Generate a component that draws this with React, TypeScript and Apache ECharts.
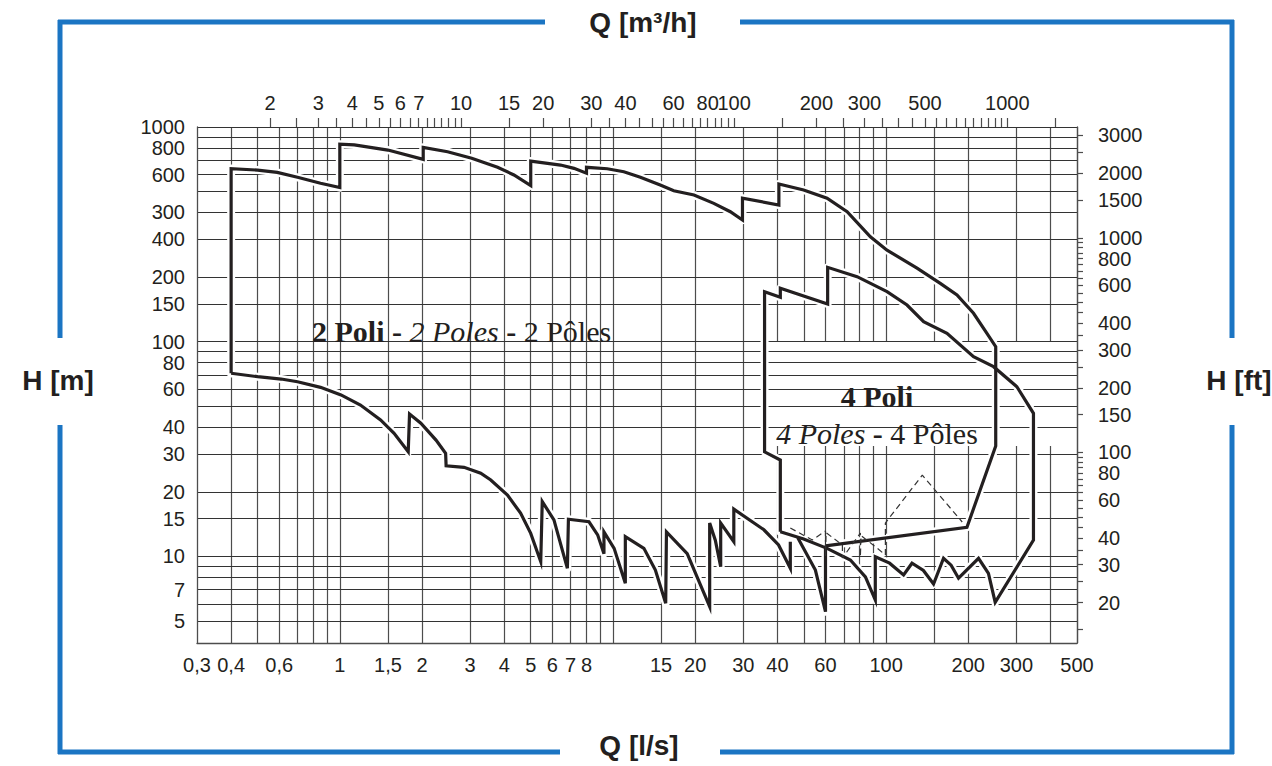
import React, { useEffect, useRef } from 'react';
import * as echarts from 'echarts';

// ---- axis values ----
const qLabelsLs = [0.3, 0.4, 0.6, 1, 1.5, 2, 3, 4, 5, 6, 7, 8, 15, 20, 30, 40, 60, 100, 200, 300, 500];
const qGridLs = [0.4, 0.5, 0.6, 0.7, 0.8, 0.9, 1, 1.5, 2, 3, 4, 5, 6, 7, 8, 9, 10, 15, 20, 30, 40, 50, 60, 70, 80, 90, 100, 150, 200, 300, 400, 500];
const qLabelsM3h = [2, 3, 4, 5, 6, 7, 10, 15, 20, 30, 40, 60, 80, 100, 200, 300, 500, 1000];
const qTicksM3h = [2, 2.5, 3, 3.5, 4, 4.5, 5, 5.5, 6, 6.5, 7, 7.5, 8, 8.5, 9, 9.5, 10, 15, 20, 25, 30, 35, 40, 45, 50, 55, 60, 65, 70, 75, 80, 85, 90, 95, 100, 150, 200, 250, 300, 350, 400, 450, 500, 550, 600, 650, 700, 750, 800, 850, 900, 950, 1000, 1500];
const hLabelsM = [5, 7, 10, 15, 20, 30, 40, 60, 80, 100, 150, 200, 300, 400, 600, 800, 1000];
const hGridM = [5, 6, 7, 8, 9, 10, 15, 20, 30, 40, 50, 60, 70, 80, 90, 100, 150, 200, 300, 400, 500, 600, 700, 800, 900, 1000];
const hLabelsFt = [20, 30, 40, 60, 80, 100, 150, 200, 300, 400, 600, 800, 1000, 1500, 2000, 3000];
const hTicksFt = [15, 20, 25, 30, 35, 40, 45, 50, 55, 60, 65, 70, 75, 80, 85, 90, 95, 100, 150, 200, 250, 300, 350, 400, 450, 500, 550, 600, 650, 700, 750, 800, 850, 900, 950, 1000, 1500, 2000, 2500, 3000];

// ---- curves: [Q l/s, H m] ----
const twoPoleUpper = [
  [0.4, 71.3], [0.4, 640], [0.5, 630], [0.59, 615], [0.7, 583], [0.85, 547], [1.0, 522], [1.0, 831],
  [1.13, 825], [1.5, 781], [2.02, 707], [2.02, 804], [2.48, 767], [3.04, 715], [3.78, 649], [4.34, 598],
  [5.0, 533], [5.0, 694], [6.43, 665], [7.2, 642], [8.0, 609], [8.0, 649], [9.53, 639], [10.96, 619],
  [12.6, 583], [14.9, 537], [16.7, 505], [19.8, 482], [23.4, 441], [26.9, 403], [29.8, 369], [29.8, 466],
  [40.5, 433], [40.5, 543], [49.9, 509], [60.8, 466], [72, 403], [87.6, 308], [100.8, 267], [129.8, 220],
  [157.9, 187], [181.8, 165], [209, 135.6], [234, 109.4], [252, 94.8], [252, 32.7], [197.7, 13.66], [60, 11.2]
];
const twoPoleLower = [
  [0.4, 71.3], [0.5, 68.7], [0.61, 67], [0.7, 65.1], [0.85, 61.3], [1.01, 56.5], [1.19, 50.7], [1.41, 43.2],
  [1.58, 37.4], [1.78, 30.7], [1.8, 46], [1.98, 41.7], [2.25, 34.8], [2.44, 30.2], [2.45, 26.4], [2.85, 26],
  [3.28, 24.4], [3.57, 22.7], [4.11, 19.3], [4.59, 15.9], [5.0, 12.8], [5.44, 9.45], [5.51, 18], [6.08, 14.8],
  [6.81, 8.8], [6.87, 14.9], [8.17, 14.5], [8.79, 12.6], [9.27, 10.3], [9.27, 13.0], [10.1, 10.9], [11.1, 7.5],
  [11.1, 12.35], [12.98, 10.9], [14.3, 8.64], [15.6, 6.05], [15.7, 13.0], [18.7, 10.3], [22.6, 5.83], [22.6, 14.3],
  [23.7, 11.9], [24.8, 8.95], [24.8, 14.3], [27.7, 11.7], [27.7, 16.6], [35.7, 13.3], [40.4, 11.3], [44.6, 8.8],
  [44.6, 11.7]
];
const twoPoleLast = [[47.5, 12.2], [55.1, 8.64], [60, 5.53], [60, 11.2]];
const fourPoleOutline = [
  [41, 13.03], [49.9, 12.05], [60.8, 10.9], [74, 9.62], [84, 8.02], [91.3, 6.26], [91.3, 9.97], [103, 9.3],
  [115.9, 8.19], [124.4, 9.29], [137, 8.6], [149.2, 7.44], [162.3, 9.8], [173, 9.1], [184.2, 7.91], [218, 9.8],
  [237, 8.34], [250.9, 6.11], [346.4, 11.9], [346.4, 46.4], [301.2, 61.7], [247.4, 76.5], [209, 85.1],
  [167.1, 109.4], [137.2, 124], [119.3, 148.2], [100.8, 171], [78.3, 200.8], [61.1, 222], [61.1, 149.8],
  [41, 177.3], [41, 161], [35.9, 171], [35.9, 30.7], [41, 28.1], [41, 13.03]
];
const dashedRange = [
  [44.6, 13.56], [53.7, 11.92], [60, 13.13], [60, 10.04], [60.3, 12.9], [69.2, 11.3], [69.2, 9.83], [80.5, 12.85],
  [80.5, 9.94], [81, 12.5], [92.9, 10.9], [99.4, 10.15], [99.4, 14.3], [135.7, 23.9], [190, 14.46]
];

const INK = '#231f20';
const GRID = '#4d4d4d';
const BLUE = '#1b75c3';

export default function App() {
  const ref = useRef<HTMLDivElement>(null);
  useEffect(() => {
    document.body.style.margin = '0';
    const chart = echarts.init(ref.current!, null, { renderer: 'svg' });
    const curves = [twoPoleUpper, twoPoleLower, twoPoleLast, fourPoleOutline];
    const labelStyle = { color: INK, fontSize: 20, fontFamily: 'Liberation Sans', hideOverlap: false };
    const series: any[] = [];
    curves.forEach((d) => series.push({
      type: 'line', data: d, xAxisIndex: 0, yAxisIndex: 0, symbol: 'none', silent: true, z: 5,
      lineStyle: { color: '#ffffff', width: 8, join: 'round', cap: 'round' }
    }));
    curves.forEach((d) => series.push({
      type: 'line', data: d, xAxisIndex: 0, yAxisIndex: 0, symbol: 'none', silent: true, z: 6,
      lineStyle: { color: INK, width: 3.2, join: 'miter', miterLimit: 6 }
    }));
    series.push({
      type: 'line', data: dashedRange, xAxisIndex: 0, yAxisIndex: 0, symbol: 'none', silent: true, z: 7,
      lineStyle: { color: '#333', width: 1.2, type: [6, 4] }
    });

    const rich = (w: string, s: string) => ({ fontFamily: 'Liberation Serif', fontSize: 30, fontWeight: w, fontStyle: s, fill: INK });
    const titleStyle = { fontFamily: 'Liberation Sans', fontSize: 28, fontWeight: 'bold', fill: INK, align: 'center', verticalAlign: 'middle' };
    const blueLine = (x1: number, y1: number, x2: number, y2: number) => ({
      type: 'line', shape: { x1, y1, x2, y2 }, style: { stroke: BLUE, lineWidth: 5 }, z: 30
    });

    chart.setOption({
      animation: false,
      backgroundColor: '#ffffff',
      grid: { left: 197, right: 195, top: 127, bottom: 123, containLabel: false, outerBoundsMode: 'none' },
      xAxis: [
        {
          type: 'log', logBase: 10, min: 0.3, max: 500, position: 'bottom', z: 1,
          axisLine: { show: true, lineStyle: { color: GRID, width: 1.3 } },
          axisTick: { show: false, customValues: qGridLs },
          splitLine: { show: true, lineStyle: { color: GRID, width: 1.2 } },
          axisLabel: { ...labelStyle, margin: 12, customValues: qLabelsLs, formatter: (v: number) => String(v).replace('.', ',') }
        },
        {
          type: 'log', logBase: 10, min: 1.08, max: 1800, position: 'top', z: 1,
          axisLine: { show: false },
          axisTick: { show: true, inside: false, length: 9, customValues: qTicksM3h, lineStyle: { color: GRID, width: 1.2 } },
          splitLine: { show: false },
          axisLabel: { ...labelStyle, margin: 14, customValues: qLabelsM3h, formatter: (v: number) => String(v) }
        }
      ],
      yAxis: [
        {
          type: 'log', logBase: 10, min: 3.95, max: 1000, position: 'left', z: 3,
          axisLine: { show: true, lineStyle: { color: GRID, width: 1.3 } },
          axisTick: { show: false, customValues: hGridM },
          splitLine: { show: true, lineStyle: { color: '#333333', width: 1.2 } },
          axisLabel: {
            ...labelStyle, margin: 12, customValues: hLabelsM,
            formatter: (v: number) => (v === 400 ? '300' : v === 300 ? '400' : String(v))
          }
        },
        {
          type: 'log', logBase: 10, min: 12.959, max: 3280.84, position: 'right', z: 3,
          axisLine: { show: true, lineStyle: { color: GRID, width: 1.3 } },
          axisTick: { show: true, inside: false, length: 6, customValues: hTicksFt, lineStyle: { color: GRID, width: 1.2 } },
          splitLine: { show: false },
          axisLabel: { ...labelStyle, margin: 21, customValues: hLabelsFt, formatter: (v: number) => String(v) }
        }
      ],
      graphic: [
        { type: 'rect', shape: { x: 768, y: 342, width: 307, height: 104 }, style: { fill: '#ffffff' }, z: 2, silent: true },
        {
          type: 'text', x: 312, y: 331, z: 20, silent: true,
          style: {
            text: '{b|2 Poli - }{i|2 Poles}{b| - }{r|2 Pôles}', verticalAlign: 'middle', align: 'left',
            rich: { b: rich('bold', 'normal'), i: rich('normal', 'italic'), r: rich('normal', 'normal') }
          }
        },
        {
          type: 'text', x: 877, y: 396, z: 20, silent: true,
          style: { text: '{b|4 Poli}', align: 'center', verticalAlign: 'middle', rich: { b: rich('bold', 'normal') } }
        },
        {
          type: 'text', x: 877, y: 433, z: 20, silent: true,
          style: {
            text: '{i|4 Poles}{b| - }{r|4 Pôles}', align: 'center', verticalAlign: 'middle',
            rich: { b: rich('bold', 'normal'), i: rich('normal', 'italic'), r: rich('normal', 'normal') }
          }
        },
        { type: 'text', x: 643, y: 22, z: 30, silent: true, style: { ...titleStyle, text: 'Q [m³/h]' } },
        { type: 'text', x: 639, y: 745, z: 30, silent: true, style: { ...titleStyle, text: 'Q [l/s]' } },
        { type: 'text', x: 58, y: 380, z: 30, silent: true, style: { ...titleStyle, text: 'H [m]' } },
        { type: 'text', x: 1239, y: 380, z: 30, silent: true, style: { ...titleStyle, text: 'H [ft]' } },
        blueLine(58, 22, 545, 22),
        blueLine(740, 22, 1234, 22),
        blueLine(60, 20, 60, 338),
        blueLine(60, 425, 60, 754),
        blueLine(58, 752, 560, 752),
        blueLine(720, 752, 1234, 752),
        blueLine(1232, 20, 1232, 338),
        blueLine(1232, 425, 1232, 754)
      ],
      series
    });
    return () => chart.dispose();
  }, []);
  return <div ref={ref} style={{ width: 1272, height: 766 }} />;
}
